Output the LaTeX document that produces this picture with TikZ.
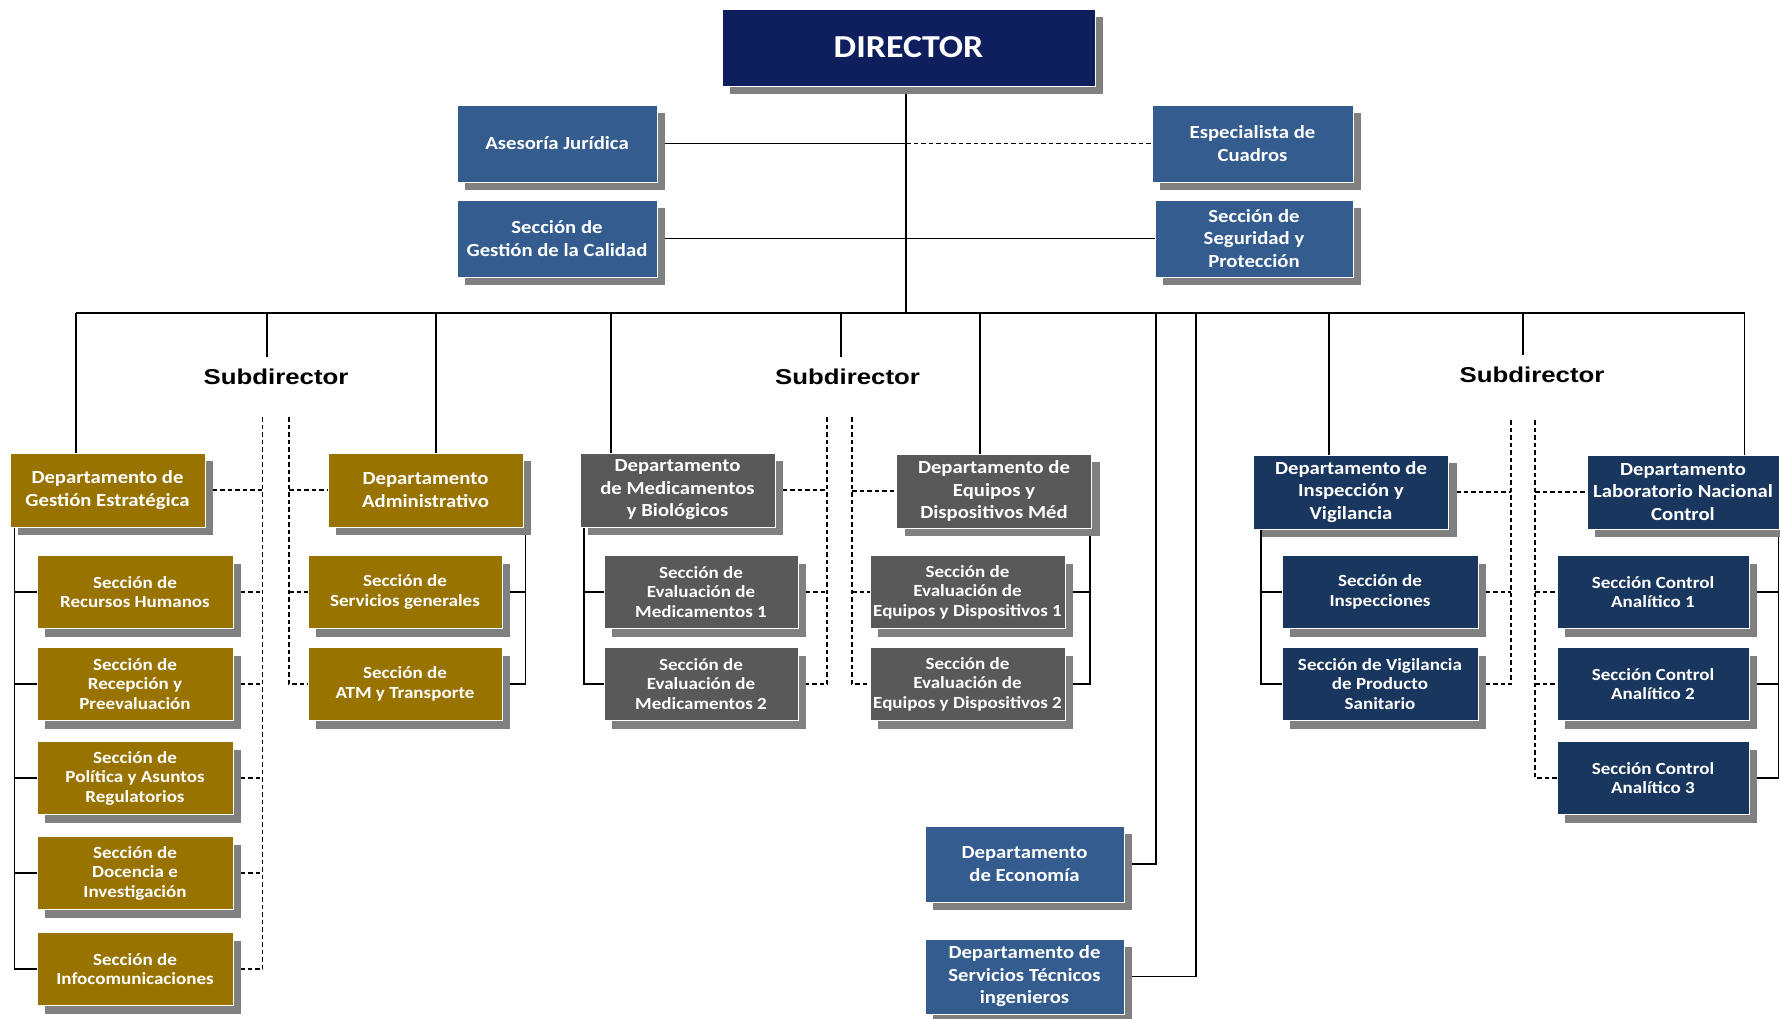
\documentclass[tikz,border=0pt]{standalone}
\usepackage{fontspec}
\newfontfamily\boxfont[FakeStretch=1.12]{Carlito}
\newfontfamily\subfont[FakeStretch=1.2]{Liberation Sans}
\usetikzlibrary{shadows,backgrounds}
\definecolor{dirc}{RGB}{15,31,94}
\definecolor{steel}{RGB}{52,92,143}
\definecolor{goldc}{RGB}{153,115,0}
\definecolor{grayc}{RGB}{89,89,89}
\definecolor{navyc}{RGB}{25,54,94}
\begin{document}
\begin{tikzpicture}[x=1pt,y=-1pt,
  box/.style={rectangle, draw=white, line width=0.8pt, text=white, align=center, inner sep=0pt,
    drop shadow={shadow xshift=8pt, shadow yshift=-8pt, fill=black!50, opacity=1}},
  dirbox/.style={box, fill=dirc, minimum width=373pt, minimum height=77pt,
    font=\boxfont\bfseries\fontsize{32}{36}\selectfont},
  topbox/.style={box, fill=steel, minimum width=200pt, minimum height=77pt,
    font=\boxfont\bfseries\fontsize{18.5}{22.5}\selectfont},
  dept/.style={box, minimum width=195pt, minimum height=74pt,
    font=\boxfont\bfseries\fontsize{18.5}{22.5}\selectfont},
  sect/.style={box, minimum width=196pt, minimum height=73pt,
    font=\boxfont\bfseries\fontsize{17}{19.5}\selectfont},
  sublabel/.style={font=\subfont\bfseries\fontsize{21.5}{24}\selectfont, text=black, inner sep=0pt},
  conn/.style={line width=1.3pt, black},
  dconn/.style={line width=1.3pt, black, dash pattern=on 4.5pt off 3pt}
]
\useasboundingbox (0,0) rectangle (1780,1018);

% ---------- top ----------
\node[dirbox] (dir) at (908.5,47.5) {DIRECTOR};
\node[topbox] (aj) at (557,143.5) {Asesoría Jurídica};
\node[topbox] (gc) at (557,238.5) {Sección de\\Gestión de la Calidad};
\node[topbox, minimum width=201pt] (ec) at (1252.5,143.5) {Especialista de\\Cuadros};
\node[topbox, minimum width=198pt] (sp) at (1254,238.5) {Sección de\\Seguridad y\\Protección};

% ---------- subdirector labels ----------
\node[sublabel] (s1) at (276,377) {Subdirector};
\node[sublabel] (s2) at (847.5,377) {Subdirector};
\node[sublabel] (s3) at (1532,375) {Subdirector};

% ---------- group A (gold) ----------
\node[dept, fill=goldc] (dge) at (107.5,490) {Departamento de\\Gestión Estratégica};
\node[dept, fill=goldc] (dad) at (425.5,490) {Departamento\\Administrativo};
\node[sect, fill=goldc] (a1) at (135,592) {Sección de\\Recursos Humanos};
\node[sect, fill=goldc] (a2) at (135,684) {Sección de\\Recepción y\\Preevaluación};
\node[sect, fill=goldc] (a3) at (135,778) {Sección de\\Política y Asuntos\\Regulatorios};
\node[sect, fill=goldc] (a4) at (135,873) {Sección de\\Docencia e\\Investigación};
\node[sect, fill=goldc] (a5) at (135,969) {Sección de\\Infocomunicaciones};
\node[sect, fill=goldc, minimum width=194pt] (a6) at (405,592) {Sección de\\Servicios generales};
\node[sect, fill=goldc, minimum width=194pt] (a7) at (405,684) {Sección de\\ATM y Transporte};

% ---------- group B (gray) ----------
\node[dept, fill=grayc] (dmb) at (677.5,490) {Departamento\\de Medicamentos\\y Biológicos};
\node[dept, fill=grayc] (deq) at (994,491) {Departamento de\\Equipos y\\Dispositivos Méd};
\node[sect, fill=grayc, minimum width=194pt] (b1) at (701,592) {Sección de\\Evaluación de\\Medicamentos 1};
\node[sect, fill=grayc, minimum width=194pt] (b2) at (701,684) {Sección de\\Evaluación de\\Medicamentos 2};
\node[sect, fill=grayc, minimum width=195pt] (b3) at (967.5,592) {Sección de\\Evaluación de\\Equipos y Dispositivos 1};
\node[sect, fill=grayc, minimum width=195pt] (b4) at (967.5,684) {Sección de\\Evaluación de\\Equipos y Dispositivos 2};

% ---------- group C (navy) ----------
\node[dept, fill=navyc] (div) at (1351,492) {Departamento de\\Inspección y\\Vigilancia};
\node[dept, fill=navyc, minimum width=192pt] (dlab) at (1683,492) {Departamento\\Laboratorio Nacional\\Control};
\node[sect, fill=navyc] (c1) at (1380,592) {Sección de\\Inspecciones};
\node[sect, fill=navyc] (c2) at (1380,684) {Sección de Vigilancia\\de Producto\\Sanitario};
\node[sect, fill=navyc, minimum width=192pt] (c3) at (1653,592) {Sección Control\\Analítico 1};
\node[sect, fill=navyc, minimum width=192pt] (c4) at (1653,684) {Sección Control\\Analítico 2};
\node[sect, fill=navyc, minimum width=192pt] (c5) at (1653,778) {Sección Control\\Analítico 3};

% ---------- economy / technical ----------
\node[topbox, minimum width=199pt, minimum height=76pt] (econ) at (1024.5,864) {Departamento\\de Economía};
\node[topbox, minimum width=199pt, minimum height=75pt] (stec) at (1024.5,976.5) {Departamento de\\Servicios Técnicos\\ingenieros};

% ---------- connectors ----------
\begin{pgfonlayer}{background}
  % trunk and bus
  \coordinate (trunk) at (906,313);
  \coordinate (busL) at (76,313);
  \coordinate (busR) at (1744.5,313);
  \draw[conn] (dir.south -| trunk) -- (trunk);
  \draw[conn] (busL) -- (busR);
  \draw[conn] (aj.east) -- (aj.east -| trunk);
  \draw[dconn] (aj.east -| trunk) -- (ec.west);
  \draw[conn] (gc.east) -- (sp.west);

  % drops from the bus
  \coordinate (dA1) at (76,313);
  \coordinate (dA2) at (436,313);
  \coordinate (dB1) at (611,313);
  \coordinate (dB2) at (980,313);
  \coordinate (dC1) at (1329,313);
  \coordinate (dC2) at (1744.5,313);
  \draw[conn] (dA1) -- (dA1 |- dge.north);
  \draw[conn] (dA2) -- (dA2 |- dad.north);
  \draw[conn] (dB1) -- (dB1 |- dmb.north);
  \draw[conn] (dB2) -- (dB2 |- deq.north);
  \draw[conn] (dC1) -- (dC1 |- div.north);
  \draw[conn] (dC2) -- (dC2 |- dlab.north);
  \coordinate (sd1) at (267,357);
  \coordinate (sd2) at (841,357);
  \coordinate (sd3) at (1523,355);
  \draw[conn] (sd1 |- busL) -- (sd1);
  \draw[conn] (sd2 |- busL) -- (sd2);
  \draw[conn] (sd3 |- busL) -- (sd3);
  \coordinate (dE) at (1156,313);
  \coordinate (dT) at (1196,313);
  \draw[conn] (dE) -- (dE |- econ.east) -- (econ.east);
  \draw[conn] (dT) -- (dT |- stec.east) -- (stec.east);

  % group A
  \coordinate (gAL) at (262.5,417);
  \coordinate (gAR) at (289,417);
  \draw[dconn] (gAL) -- (gAL |- a5.east) -- (a5.east);
  \draw[dconn] (dge.east) -- (gAL |- dge.east);
  \foreach \n in {a1,a2,a3,a4} \draw[dconn] (\n.east) -- (gAL |- \n.east);
  \draw[dconn] (gAR) -- (gAR |- a7.west) -- (a7.west);
  \draw[dconn] (gAR |- dad.west) -- (dad.west);
  \draw[dconn] (gAR |- a6.west) -- (a6.west);
  \coordinate (sA1) at (14.5,417);
  \draw[conn] (sA1 |- dge.south) -- (sA1 |- a5.west) -- (a5.west);
  \foreach \n in {a1,a2,a3,a4} \draw[conn] (sA1 |- \n.west) -- (\n.west);
  \coordinate (sA2) at (525.5,417);
  \draw[conn] (sA2 |- dad.south) -- (sA2 |- a7.east) -- (a7.east);
  \draw[conn] (a6.east) -- (sA2 |- a6.east);

  % group B
  \coordinate (gBL) at (827,417);
  \coordinate (gBR) at (852,417);
  \draw[dconn] (gBL) -- (gBL |- b2.east) -- (b2.east);
  \draw[dconn] (dmb.east) -- (gBL |- dmb.east);
  \draw[dconn] (b1.east) -- (gBL |- b1.east);
  \draw[dconn] (gBR) -- (gBR |- b4.west) -- (b4.west);
  \draw[dconn] (gBR |- deq.west) -- (deq.west);
  \draw[dconn] (gBR |- b3.west) -- (b3.west);
  \coordinate (sB1) at (584,417);
  \draw[conn] (sB1 |- dmb.south) -- (sB1 |- b2.west) -- (b2.west);
  \draw[conn] (sB1 |- b1.west) -- (b1.west);
  \coordinate (sB2) at (1090,417);
  \draw[conn] (sB2 |- deq.south) -- (sB2 |- b4.east) -- (b4.east);
  \draw[conn] (b3.east) -- (sB2 |- b3.east);

  % group C
  \coordinate (gCL) at (1511,420);
  \coordinate (gCR) at (1535,420);
  \draw[dconn] (gCL) -- (gCL |- c2.east) -- (c2.east);
  \draw[dconn] (div.east) -- (gCL |- div.east);
  \draw[dconn] (c1.east) -- (gCL |- c1.east);
  \draw[dconn] (gCR) -- (gCR |- c5.west) -- (c5.west);
  \draw[dconn] (gCR |- dlab.west) -- (dlab.west);
  \draw[dconn] (gCR |- c3.west) -- (c3.west);
  \draw[dconn] (gCR |- c4.west) -- (c4.west);
  \coordinate (sC1) at (1261,420);
  \draw[conn] (sC1 |- div.south) -- (sC1 |- c2.west) -- (c2.west);
  \draw[conn] (sC1 |- c1.west) -- (c1.west);
  \coordinate (sC2) at (1778.5,420);
  \draw[conn] (sC2 |- dlab.south) -- (sC2 |- c5.east) -- (c5.east);
  \draw[conn] (c3.east) -- (sC2 |- c3.east);
  \draw[conn] (c4.east) -- (sC2 |- c4.east);
\end{pgfonlayer}
\end{tikzpicture}
\end{document}
